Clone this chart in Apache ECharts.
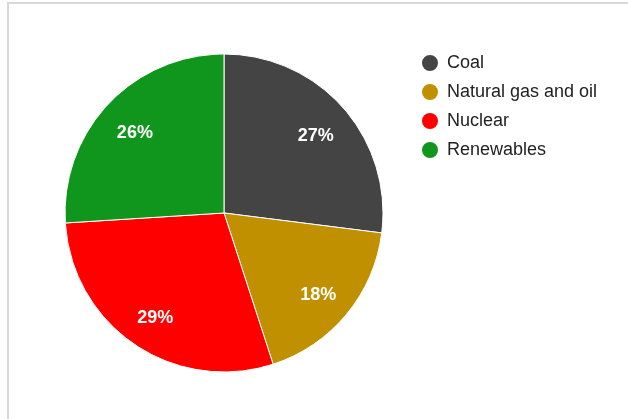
<!DOCTYPE html>
<html><head><meta charset="utf-8">
<script src="https://cdn.jsdelivr.net/npm/echarts@6/dist/echarts.min.js"></script>
<style>html,body{margin:0;padding:0;background:#fff}#c{width:628px;height:419px}</style>
</head><body><div id="c"></div>
<script>
const categories = ['Coal', 'Natural gas and oil', 'Nuclear', 'Renewables'];
const values = [27, 18, 29, 26];
const colors = ['#444444', '#c09000', '#ff0000', '#11961d'];

const data = categories.map((n, i) => ({ name: n, value: values[i], itemStyle: { color: colors[i] } }));
const chart = echarts.init(document.getElementById('c'));
const R = 159;
chart.setOption({
  animation: false,
  textStyle: { fontFamily: 'Liberation Sans, Arial, sans-serif' },
  graphic: [{ type: 'rect', silent: true, z: 100, shape: { x: 8, y: 3, width: 800, height: 600 }, style: { fill: 'none', stroke: '#d9d9d9', lineWidth: 2 } }],
  legend: {
    orient: 'vertical', left: 415, top: 48, itemWidth: 24, itemHeight: 18, itemGap: 9,
    icon: 'circle', data: categories,
    textStyle: { fontSize: 18, color: '#222', fontFamily: 'Liberation Sans, Arial, sans-serif' }
  },
  series: [{
    type: 'pie', center: [224, 213], radius: [0, R], startAngle: 90, clockwise: true,
    data: data, label: { show: false }, labelLine: { show: false },
    itemStyle: { borderColor: '#fff', borderWidth: 1 }, emphasis: { disabled: true }
  }, {
    type: 'pie', center: [224, 217], radius: [R * 0.5, R], startAngle: 90, clockwise: true, silent: true,
    data: data.map(d => ({ name: d.name, value: d.value, itemStyle: { color: 'rgba(0,0,0,0)' } })),
    legendHoverLink: false,
    itemStyle: { borderWidth: 0 },
    label: { show: true, position: 'inside', formatter: p => Math.round(p.percent) + '%', color: '#fff', fontWeight: 'bold', fontSize: 18, fontFamily: 'Liberation Sans, Arial, sans-serif' },
    labelLine: { show: false }, emphasis: { disabled: true }
  }]
});
</script></body></html>
